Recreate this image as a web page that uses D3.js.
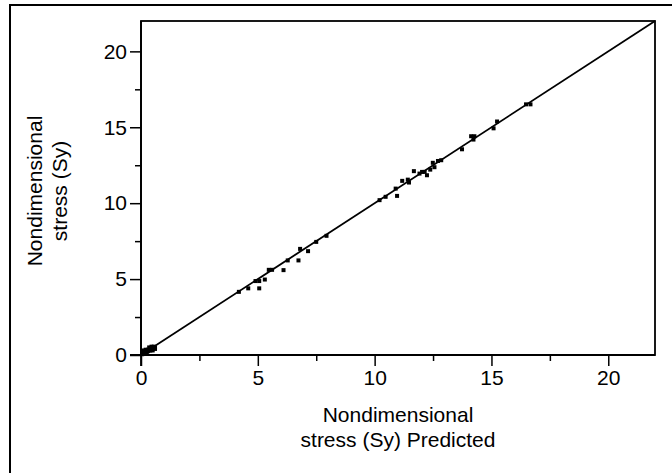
<!DOCTYPE html>
<html>
<head>
<meta charset="utf-8">
<script src="https://cdn.jsdelivr.net/npm/d3@7"></script>
<style>
  body { margin: 0; background: #fff; }
  svg { font-family: "Liberation Sans", Arial, sans-serif; }
</style>
</head>
<body>
<svg width="672" height="473"></svg>
<script>
const predicted = [
  0.05, 0.1, 0.15, 0.2, 0.25, 0.3, 0.35, 0.4, 0.45, 0.5, 0.55, 0.5, 0.4, 0.3, 0.2, 0.6,
  0.1, 0.2, 0.35, 0.45, 0.55, 0.6,
  4.19, 4.59, 4.90, 5.06, 5.06, 5.30, 5.47, 5.61, 6.10, 6.28, 6.74, 6.81, 7.15, 7.50, 7.94,
  10.21, 10.47, 10.90, 10.96, 11.18, 11.42, 11.47, 11.68, 11.92, 12.03, 12.14, 12.24,
  12.38, 12.49, 12.56, 12.71, 12.85, 13.74, 14.13, 14.27, 14.23, 15.09, 15.24,
  16.48, 16.67
];
const actual = [
  0.05, 0.15, 0.1, 0.2, 0.15, 0.25, 0.3, 0.3, 0.35, 0.4, 0.45, 0.3, 0.45, 0.35, 0.1, 0.4,
  0.3, 0.35, 0.5, 0.55, 0.55, 0.5,
  4.16, 4.39, 4.87, 4.87, 4.39, 4.97, 5.61, 5.61, 5.59, 6.23, 6.23, 6.99, 6.84, 7.45, 7.85,
  10.20, 10.42, 10.96, 10.48, 11.47, 11.55, 11.36, 12.11, 11.95, 12.06, 12.06, 11.84,
  12.21, 12.66, 12.37, 12.78, 12.83, 13.55, 14.41, 14.41, 14.19, 14.93, 15.38,
  16.51, 16.51
];
const majorTicks = [0, 5, 10, 15, 20];
const minorTicks = [2.5, 7.5, 12.5, 17.5];
const fitLine = [[0, 0], [22, 22]];

const svg = d3.select("svg");
const plotLeft = 141, plotRight = 655, plotTop = 21, plotBottom = 355;

// scales
const x = d3.scaleLinear().domain([0, 22]).range([plotLeft, plotRight]);
const y = d3.scaleLinear().domain([0, 22]).range([plotBottom, plotTop]);

// outer frame (runs off the page on the right and bottom)
svg.append("rect")
    .attr("x", 10).attr("y", 5)
    .attr("width", 700).attr("height", 500)
    .attr("fill", "none")
    .attr("stroke", "#000")
    .attr("stroke-width", 2);

// axes
svg.append("g")
    .attr("transform", `translate(0,${plotBottom})`)
    .call(d3.axisBottom(x).tickValues(majorTicks).tickSize(11).tickPadding(4).tickSizeOuter(0));
svg.append("g")
    .attr("transform", `translate(0,${plotBottom})`)
    .call(d3.axisBottom(x).tickValues(minorTicks).tickSize(6).tickFormat("").tickSizeOuter(0));

svg.append("g")
    .attr("transform", `translate(${plotLeft},0)`)
    .call(d3.axisLeft(y).tickValues(majorTicks).tickSize(11).tickPadding(3).tickSizeOuter(0));
svg.append("g")
    .attr("transform", `translate(${plotLeft},0)`)
    .call(d3.axisLeft(y).tickValues(minorTicks).tickSize(6).tickFormat("").tickSizeOuter(0));

svg.selectAll(".domain").remove();
svg.selectAll(".tick line").attr("stroke", "#000").attr("stroke-width", 1.5);
svg.selectAll(".tick text")
    .attr("font-family", "'Liberation Sans', Arial, sans-serif")
    .attr("font-size", 21)
    .attr("fill", "#000");

// x axis extends left past the y axis, and the y axis down past the x axis
svg.append("line")
    .attr("x1", plotLeft - 11).attr("x2", plotRight)
    .attr("y1", plotBottom).attr("y2", plotBottom)
    .attr("stroke", "#000").attr("stroke-width", 1.8);
svg.append("line")
    .attr("x1", plotLeft).attr("x2", plotLeft)
    .attr("y1", plotTop).attr("y2", plotBottom + 11)
    .attr("stroke", "#000").attr("stroke-width", 1.8);

// plot frame
svg.append("rect")
    .attr("x", plotLeft).attr("y", plotTop)
    .attr("width", plotRight - plotLeft).attr("height", plotBottom - plotTop)
    .attr("fill", "none")
    .attr("stroke", "#000")
    .attr("stroke-width", 1.8);

// fit line
svg.append("line")
    .attr("x1", x(fitLine[0][0])).attr("y1", y(fitLine[0][1]))
    .attr("x2", x(fitLine[1][0])).attr("y2", y(fitLine[1][1]))
    .attr("stroke", "#000")
    .attr("stroke-width", 1.8);

// points
svg.append("g")
  .selectAll("rect")
  .data(predicted.map((d, i) => [d, actual[i]]))
  .enter().append("rect")
    .attr("x", (d) => x(d[0]) - 2)
    .attr("y", (d) => y(d[1]) - 2)
    .attr("width", 4)
    .attr("height", 4)
    .attr("fill", "#000");

// axis titles
const xTitle = svg.append("text")
    .attr("text-anchor", "middle")
    .attr("font-size", 21)
    .attr("fill", "#000");
xTitle.append("tspan").attr("x", (plotLeft + plotRight) / 2).attr("y", 422).text("Nondimensional");
xTitle.append("tspan").attr("x", (plotLeft + plotRight) / 2).attr("y", 447).text("stress (Sy) Predicted");

const cy = (plotTop + plotBottom) / 2 + 3;
const yTitle = svg.append("text")
    .attr("text-anchor", "middle")
    .attr("font-size", 21)
    .attr("fill", "#000")
    .attr("transform", `translate(0,${cy}) rotate(-90)`);
yTitle.append("tspan").attr("x", 0).attr("y", 42).text("Nondimensional");
yTitle.append("tspan").attr("x", 0).attr("y", 67).text("stress (Sy)");
</script>
</body>
</html>
